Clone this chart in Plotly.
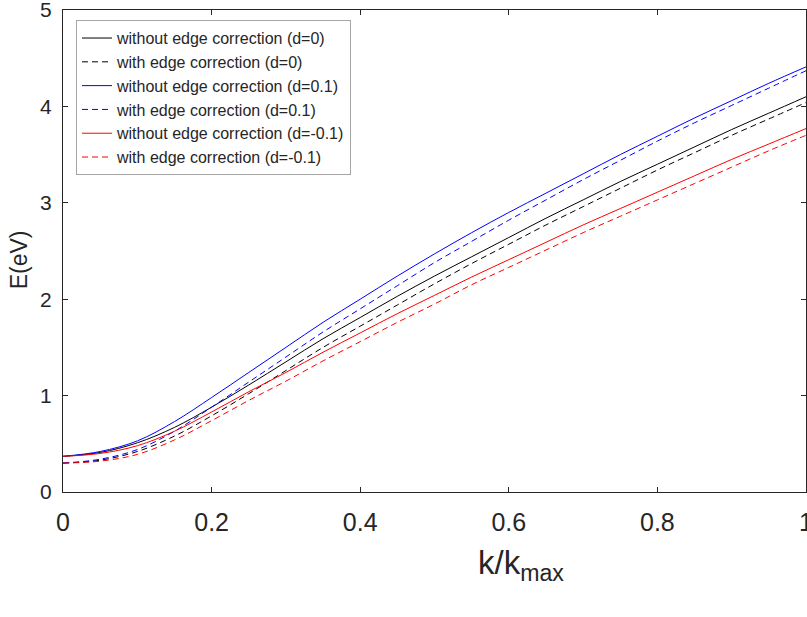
import plotly.graph_objects as go

k = [0, 0.05, 0.1, 0.15, 0.2, 0.25, 0.3, 0.35, 0.4, 0.45, 0.5,
     0.55, 0.6, 0.65, 0.7, 0.75, 0.8, 0.85, 0.9, 0.95, 1.0]

E_d0_no = [0.37, 0.41, 0.51, 0.67, 0.88, 1.11, 1.35, 1.59, 1.81, 2.03, 2.24,
           2.44, 2.64, 2.84, 3.03, 3.22, 3.40, 3.58, 3.76, 3.93, 4.10]
E_d0_edge = [0.30, 0.33, 0.42, 0.58, 0.79, 1.02, 1.26, 1.50, 1.72, 1.94, 2.16,
             2.37, 2.57, 2.77, 2.96, 3.15, 3.34, 3.52, 3.70, 3.87, 4.04]
E_dp_no = [0.37, 0.42, 0.53, 0.73, 0.98, 1.24, 1.50, 1.76, 2.00, 2.24, 2.47,
           2.69, 2.90, 3.10, 3.30, 3.50, 3.69, 3.88, 4.06, 4.24, 4.41]
E_dp_edge = [0.30, 0.34, 0.44, 0.63, 0.88, 1.14, 1.40, 1.66, 1.90, 2.14, 2.38,
             2.60, 2.82, 3.03, 3.24, 3.44, 3.64, 3.83, 4.01, 4.19, 4.37]
E_dm_no = [0.37, 0.40, 0.48, 0.63, 0.83, 1.04, 1.24, 1.45, 1.65, 1.85, 2.04,
           2.23, 2.41, 2.59, 2.77, 2.94, 3.11, 3.28, 3.45, 3.61, 3.77]
E_dm_edge = [0.30, 0.32, 0.39, 0.54, 0.74, 0.95, 1.15, 1.36, 1.56, 1.76, 1.95,
             2.15, 2.33, 2.51, 2.69, 2.86, 3.03, 3.20, 3.37, 3.54, 3.70]

series = [
    ("without edge correction (d=0)", E_d0_no, "#000000", "solid"),
    ("with edge correction (d=0)", E_d0_edge, "#000000", "6px,4px"),
    ("without edge correction (d=0.1)", E_dp_no, "#0000ff", "solid"),
    ("with edge correction (d=0.1)", E_dp_edge, "#0000ff", "6px,4px"),
    ("without edge correction (d=-0.1)", E_dm_no, "#ff0000", "solid"),
    ("with edge correction (d=-0.1)", E_dm_edge, "#ff0000", "6px,4px"),
]

x_ticks = [0, 0.2, 0.4, 0.6, 0.8, 1]
x_ticktext = ["0", "0.2", "0.4", "0.6", "0.8", "1"]
y_ticks = [0, 1, 2, 3, 4, 5]

fig = go.Figure()
for name, ys, col, dash in series:
    fig.add_trace(go.Scatter(x=k, y=ys, mode="lines", name=name,
                             line=dict(color=col, width=1, dash=dash, shape="spline")))

sans = "Liberation Sans, Arial, sans-serif"

fig.update_layout(
    width=807, height=617,
    margin=dict(l=63, r=1, t=10, b=125, autoexpand=False),
    paper_bgcolor="white", plot_bgcolor="white",
    showlegend=True,
    legend=dict(x=0.0175, y=0.979, xanchor="left", yanchor="top",
                bgcolor="white", bordercolor="#a6a6a6", borderwidth=1,
                font=dict(family=sans, size=16, color="#262626"),
                itemwidth=30, tracegroupgap=0),
    xaxis=dict(range=[0, 1], tickvals=x_ticks, ticktext=x_ticktext,
               automargin=False, ticklabeloverflow="allow",
               showgrid=False, zeroline=False, showline=True, linecolor="#262626",
               linewidth=1, mirror="ticks", ticks="inside", ticklen=5,
               tickcolor="#262626", ticklabelstandoff=8,
               tickfont=dict(family=sans, size=25, color="#262626")),
    yaxis=dict(range=[0, 5], tickvals=y_ticks,
               automargin=False, ticklabeloverflow="allow",
               showgrid=False, zeroline=False, showline=True, linecolor="#262626",
               linewidth=1, mirror="ticks", ticks="inside", ticklen=5,
               tickcolor="#262626", ticklabelstandoff=6,
               tickfont=dict(family=sans, size=21, color="#262626")),
    annotations=[
        dict(text="k/k<sub>max</sub>", xref="paper", yref="paper",
             x=0.616, y=-0.104, xanchor="center", yanchor="top", showarrow=False,
             font=dict(family=sans, size=33, color="#262626")),
        dict(text="E(eV)", xref="paper", yref="paper", textangle=-90,
             x=-0.059, y=0.481, xanchor="center", yanchor="middle", showarrow=False,
             font=dict(family=sans, size=23, color="#262626")),
    ],
)

fig.write_html("out.html", config={"displayModeBar": False},
               post_script="document.body.style.margin='0px';")
